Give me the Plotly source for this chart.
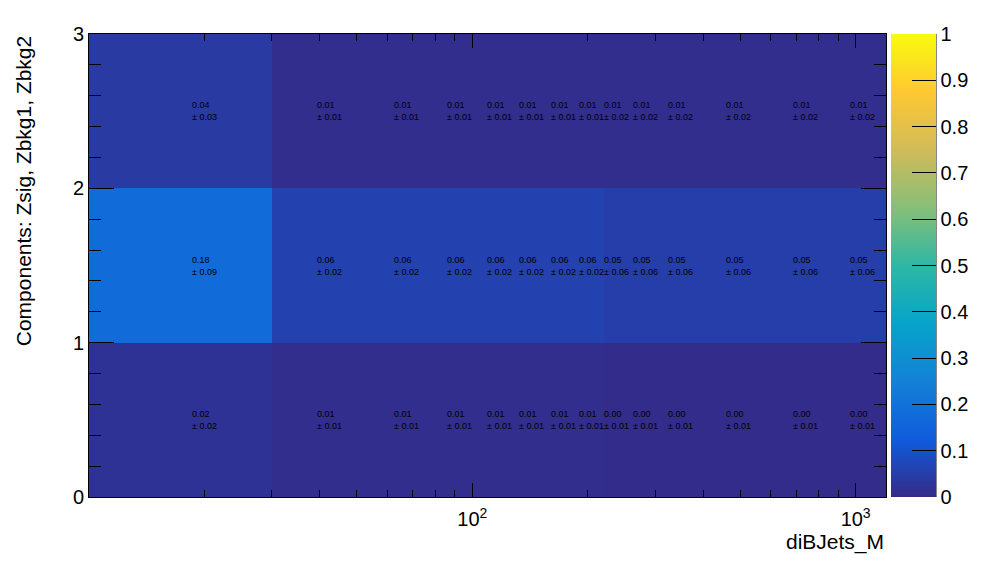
import numpy as np
import plotly.graph_objects as go

# Bin edges of diBJets_M (GeV) and of the component axis
mass_edges = [10, 30, 55, 80, 105, 130, 155, 190, 220, 255, 310, 390, 600, 880, 1200]
comp_edges = [0, 1, 2, 3]

# Values per component (rows: Zsig bottom, Zbkg1 middle, Zbkg2 top)
zsig_vals = [0.02, 0.01, 0.01, 0.01, 0.01, 0.01, 0.01, 0.01, 0.004, 0.004, 0.004, 0.004, 0.004, 0.004]
zsig_errs = [0.02, 0.01, 0.01, 0.01, 0.01, 0.01, 0.01, 0.01, 0.01, 0.01, 0.01, 0.01, 0.01, 0.01]
zbkg1_vals = [0.18, 0.06, 0.06, 0.06, 0.06, 0.06, 0.06, 0.06, 0.05, 0.05, 0.05, 0.05, 0.05, 0.05]
zbkg1_errs = [0.09, 0.02, 0.02, 0.02, 0.02, 0.02, 0.02, 0.02, 0.06, 0.06, 0.06, 0.06, 0.06, 0.06]
zbkg2_vals = [0.04, 0.01, 0.01, 0.01, 0.01, 0.01, 0.01, 0.01, 0.01, 0.01, 0.01, 0.01, 0.01, 0.01]
zbkg2_errs = [0.03, 0.01, 0.01, 0.01, 0.01, 0.01, 0.01, 0.01, 0.02, 0.02, 0.02, 0.02, 0.02, 0.02]

x_major_ticks = [100, 1000]
x_major_labels = ["10<sup>2</sup>", "10<sup>3</sup>"]
x_minor_ticks = [20, 30, 40, 50, 60, 70, 80, 90, 200, 300, 400, 500, 600, 700, 800, 900]
y_major_ticks = [0, 1, 2, 3]
y_minor_ticks = [0.2, 0.4, 0.6, 0.8, 1.2, 1.4, 1.6, 1.8, 2.2, 2.4, 2.6, 2.8]
cbar_ticks = [0, 0.1, 0.2, 0.3, 0.4, 0.5, 0.6, 0.7, 0.8, 0.9, 1]
cbar_labels = ["0", "0.1", "0.2", "0.3", "0.4", "0.5", "0.6", "0.7", "0.8", "0.9", "1"]

# ROOT kBird palette
stops = [0.0, 0.125, 0.25, 0.375, 0.5, 0.625, 0.75, 0.875, 1.0]
red = [0.2082, 0.0592, 0.0780, 0.0232, 0.1802, 0.5301, 0.8186, 0.9956, 0.9764]
green = [0.1664, 0.3599, 0.5041, 0.6419, 0.7178, 0.7492, 0.7328, 0.7862, 0.9832]
blue = [0.5293, 0.8684, 0.8385, 0.7914, 0.6425, 0.4662, 0.3499, 0.1968, 0.0539]
colorscale = [[s, "rgb(%d,%d,%d)" % (round(r * 255), round(g * 255), round(b * 255))]
              for s, r, g, b in zip(stops, red, green, blue)]

z = [zsig_vals, zbkg1_vals, zbkg2_vals]
errs = [zsig_errs, zbkg1_errs, zbkg2_errs]

FONT = "Liberation Sans, Arial, Helvetica, sans-serif"

fig = go.Figure()
fig.add_trace(go.Heatmap(
    x=mass_edges, y=comp_edges, z=z,
    zmin=0, zmax=1, colorscale=colorscale,
    hoverinfo="skip",
    colorbar=dict(
        x=1.00627, xanchor="left", xpad=0, ypad=0,
        y=0.5, yanchor="middle", len=1, lenmode="fraction",
        thickness=45, thicknessmode="pixels", outlinewidth=0,
        ticks="inside", ticklen=24, tickwidth=1, tickcolor="black",
        tickvals=cbar_ticks, ticktext=cbar_labels,
        tickfont=dict(family=FONT, size=20, color="black"),
    ),
))

annotations = []
for j in range(len(comp_edges) - 1):
    yc = (comp_edges[j] + comp_edges[j + 1]) / 2
    for i in range(len(mass_edges) - 1):
        xc = (mass_edges[i] + mass_edges[i + 1]) / 2
        annotations.append(dict(
            x=np.log10(xc), y=yc, xref="x", yref="y",
            text="%.2f<br>± %.2f" % (z[j][i], errs[j][i]),
            showarrow=False, align="left", xanchor="center", yanchor="middle",
            font=dict(family=FONT, size=9, color="black"),
        ))

annotations.append(dict(
    text="diBJets_M", xref="paper", yref="paper", x=1.0, y=-0.097,
    xanchor="right", yanchor="middle", showarrow=False,
    font=dict(family=FONT, size=21, color="black"),
))
annotations.append(dict(
    text="Components: Zsig, Zbkg1, Zbkg2", xref="paper", yref="paper",
    x=-0.0825, y=1.0, xanchor="center", yanchor="top", textangle=-90,
    showarrow=False, font=dict(family=FONT, size=21, color="black"),
))

fig.update_layout(
    width=996, height=572,
    margin=dict(l=89, r=110, t=34, b=75, pad=0, autoexpand=False),
    paper_bgcolor="white", plot_bgcolor="white",
    font=dict(family=FONT, size=20, color="black"),
    annotations=annotations,
    shapes=[dict(type="line", xref="paper", yref="paper",
                 x0=1.0627, x1=1.0627, y0=0, y1=1,
                 line=dict(color="black", width=1))],
    xaxis=dict(
        type="log", range=[np.log10(mass_edges[0]), np.log10(mass_edges[-1])],
        tickvals=x_major_ticks, ticktext=x_major_labels,
        ticks="inside", ticklen=14, tickwidth=1, tickcolor="black",
        minor=dict(tickvals=x_minor_ticks, ticks="inside", ticklen=7,
                   tickwidth=1, tickcolor="black", showgrid=False),
        showline=True, linecolor="black", linewidth=1, mirror="ticks",
        showgrid=False, zeroline=False, ticklabelstandoff=4,
        tickfont=dict(family=FONT, size=20, color="black"),
    ),
    yaxis=dict(
        range=[comp_edges[0], comp_edges[-1]],
        tickvals=y_major_ticks,
        ticks="inside", ticklen=25, tickwidth=1, tickcolor="black",
        minor=dict(tickvals=y_minor_ticks, ticks="inside", ticklen=12,
                   tickwidth=1, tickcolor="black", showgrid=False),
        showline=True, linecolor="black", linewidth=1, mirror="ticks",
        showgrid=False, zeroline=False,
        tickfont=dict(family=FONT, size=20, color="black"),
    ),
)

fig.write_html("out.html")
